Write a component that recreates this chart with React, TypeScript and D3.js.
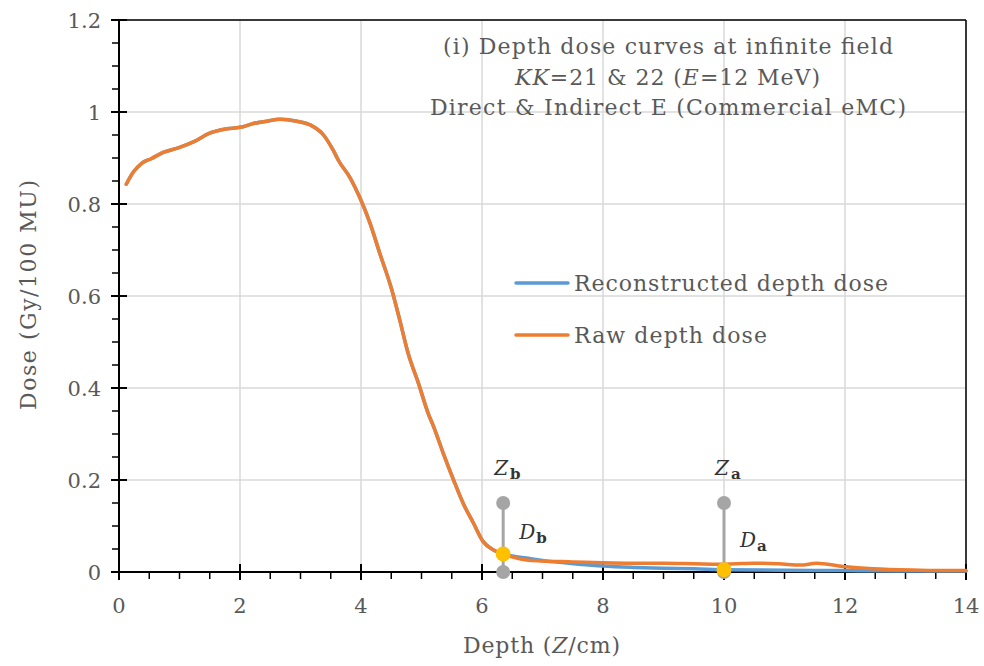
import React from "react";
import * as d3 from "d3";

const rawDepth = [0.12, 0.24, 0.37, 0.54, 0.73, 0.98, 1.23, 1.5, 1.72, 2.05, 2.22, 2.44, 2.66, 2.94, 3.16, 3.38, 3.54, 3.63, 3.82, 3.98, 4.15, 4.31, 4.51, 4.64, 4.78, 4.95, 5.11, 5.2, 5.36, 5.53, 5.69, 5.86, 6.02, 6.19, 6.35, 6.52, 6.74, 6.98, 7.5, 8.0, 8.5, 9.0, 9.5, 9.93, 10.2, 10.48, 10.9, 11.26, 11.53, 11.97, 12.46, 13.24, 14.0];
const rawDose = [0.843, 0.870, 0.888, 0.899, 0.912, 0.922, 0.935, 0.954, 0.962, 0.968, 0.975, 0.980, 0.984, 0.980, 0.972, 0.950, 0.917, 0.894, 0.857, 0.814, 0.758, 0.693, 0.613, 0.548, 0.475, 0.410, 0.345, 0.316, 0.258, 0.200, 0.149, 0.106, 0.066, 0.048, 0.039, 0.032, 0.026, 0.024, 0.022, 0.020, 0.019, 0.019, 0.018, 0.017, 0.018, 0.019, 0.018, 0.015, 0.019, 0.012, 0.007, 0.004, 0.003];

const reconDepth = [0.12, 0.24, 0.37, 0.54, 0.73, 0.98, 1.23, 1.5, 1.72, 2.05, 2.22, 2.44, 2.66, 2.94, 3.16, 3.38, 3.54, 3.63, 3.82, 3.98, 4.15, 4.31, 4.51, 4.64, 4.78, 4.95, 5.11, 5.2, 5.36, 5.53, 5.69, 5.86, 6.02, 6.19, 6.35, 6.5, 6.8, 7.2, 7.6, 8.0, 8.5, 9.0, 9.5, 10.0, 11.0, 12.0, 13.0, 14.0];
const reconDose = [0.843, 0.870, 0.888, 0.899, 0.912, 0.922, 0.935, 0.954, 0.962, 0.968, 0.975, 0.980, 0.984, 0.980, 0.972, 0.950, 0.917, 0.894, 0.857, 0.814, 0.758, 0.693, 0.613, 0.548, 0.475, 0.410, 0.345, 0.316, 0.258, 0.200, 0.149, 0.106, 0.066, 0.048, 0.039, 0.035, 0.029, 0.022, 0.017, 0.013, 0.010, 0.008, 0.007, 0.005, 0.004, 0.003, 0.002, 0.002];

const xTicks = [0, 2, 4, 6, 8, 10, 12, 14];
const yTicks = [0, 0.2, 0.4, 0.6, 0.8, 1, 1.2];
const yTickLabels = ["0", "0.2", "0.4", "0.6", "0.8", "1", "1.2"];

const markerDepths = [6.35, 10];
const markerTop = 0.15;
const markerDoses = [0.039, 0.005];
const markerZLabels = ["b", "a"];

const W = 984, H = 666;
const FONT = "'DejaVu Serif', serif";
const TXT = "#595959";

export default function App() {
  const x = d3.scaleLinear().domain([0, 14]).range([119, 966]);
  const y = d3.scaleLinear().domain([0, 1.2]).range([572, 20]);
  const line = d3
    .line<[number, number]>()
    .x((d) => x(d[0]))
    .y((d) => y(d[1]))
    .curve(d3.curveMonotoneX);
  const raw = rawDepth.map((d, i) => [d, rawDose[i]] as [number, number]);
  const recon = reconDepth.map((d, i) => [d, reconDose[i]] as [number, number]);
  const xMinor = d3.range(0, 14.01, 0.5).filter((v) => Math.abs(v % 2) > 1e-6);
  const yMinor = d3.range(0, 1.2001, 0.05).filter((v) => Math.abs(Math.round(v * 100) % 20) > 1e-6);

  return (
    <div style={{ position: "fixed", left: 0, top: 0 }}>
      <svg width={W} height={H} style={{ display: "block", background: "#fff" }}>
        {/* grid */}
        {xTicks.slice(1).map((t) => (
          <line key={"gx" + t} x1={x(t)} x2={x(t)} y1={y(0)} y2={y(1.2)} stroke="#d9d9d9" strokeWidth={1.5} />
        ))}
        {yTicks.slice(1).map((t) => (
          <line key={"gy" + t} x1={x(0)} x2={x(14)} y1={y(t)} y2={y(t)} stroke="#d9d9d9" strokeWidth={1.5} />
        ))}
        {/* frame top & right */}
        <line x1={x(0)} x2={x(14)} y1={y(1.2)} y2={y(1.2)} stroke="#000" strokeWidth={1.5} />
        <line x1={x(14)} x2={x(14)} y1={y(0)} y2={y(1.2)} stroke="#000" strokeWidth={1.5} />
        {/* axes */}
        <line x1={x(0)} x2={x(14)} y1={y(0)} y2={y(0)} stroke="#000" strokeWidth={2} />
        <line x1={x(0)} x2={x(0)} y1={y(0)} y2={y(1.2)} stroke="#000" strokeWidth={2} />
        {xTicks.map((t) => (
          <line key={"xt" + t} x1={x(t)} x2={x(t)} y1={y(0) - 8} y2={y(0) + 8} stroke="#000" strokeWidth={2} />
        ))}
        {xMinor.map((t) => (
          <line key={"xm" + t} x1={x(t)} x2={x(t)} y1={y(0)} y2={y(0) + 7} stroke="#000" strokeWidth={1.5} />
        ))}
        {yTicks.map((t) => (
          <line key={"yt" + t} x1={x(0) - 8} x2={x(0) + 8} y1={y(t)} y2={y(t)} stroke="#000" strokeWidth={2} />
        ))}
        {yMinor.map((t) => (
          <line key={"ym" + t} x1={x(0) - 7} x2={x(0)} y1={y(t)} y2={y(t)} stroke="#000" strokeWidth={1.5} />
        ))}
        {/* tick labels */}
        {xTicks.map((t) => (
          <text key={"xl" + t} x={x(t)} y={613} textAnchor="middle" fontFamily={FONT} fontSize={21} fill={TXT}>
            {t}
          </text>
        ))}
        {yTicks.map((t, i) => (
          <text key={"yl" + t} x={101} y={y(t) + 7.5} textAnchor="end" fontFamily={FONT} fontSize={21} fill={TXT}>
            {yTickLabels[i]}
          </text>
        ))}
        {/* axis titles */}
        <text x={463} y={653} textLength={157} lengthAdjust="spacing" fontFamily={FONT} fontSize={22} fill={TXT}>
          Depth (<tspan fontStyle="italic">Z</tspan>/cm)
        </text>
        <text transform={`translate(36,410) rotate(-90)`} textLength={230} lengthAdjust="spacing" fontFamily={FONT} fontSize={22} fill={TXT}>
          Dose (Gy/100 MU)
        </text>
        {/* chart title */}
        <g fontFamily={FONT} fontSize={22} fill={TXT}>
          <text x={443} y={54} textLength={450} lengthAdjust="spacing">(i) Depth dose curves at infinite field</text>
          <text x={515} y={85} textLength={305} lengthAdjust="spacing">
            <tspan fontStyle="italic">KK</tspan>=21 &amp; 22 (<tspan fontStyle="italic">E</tspan>=12 MeV)
          </text>
          <text x={430} y={115} textLength={476} lengthAdjust="spacing">Direct &amp; Indirect E (Commercial eMC)</text>
        </g>
        {/* curves */}
        <path d={line(recon) || ""} fill="none" stroke="#5B9BD5" strokeWidth={3.5} strokeLinecap="round" />
        <path d={line(raw) || ""} fill="none" stroke="#ED7D31" strokeWidth={3.5} strokeLinecap="round" />
        {/* markers */}
        {markerDepths.map((m, i) => (
          <g key={"mk" + i}>
            <line x1={x(m)} x2={x(m)} y1={y(0)} y2={y(markerTop)} stroke="#A5A5A5" strokeWidth={3} />
            <circle cx={x(m)} cy={y(markerTop)} r={7} fill="#A5A5A5" />
            <circle cx={x(m)} cy={y(0)} r={7} fill="#A5A5A5" />
            <circle cx={x(m)} cy={y(markerDoses[i])} r={7.5} fill="#FFC000" />
            <text x={x(m) - 9} y={475} fontFamily={FONT} fontSize={20} fill="#333">
              <tspan fontStyle="italic">Z</tspan>
              <tspan dx={2} dy={4} fontSize={15} fontWeight="bold">{markerZLabels[i]}</tspan>
            </text>
            <text x={x(m) + 16} y={i === 0 ? 539 : 547} fontFamily={FONT} fontSize={20} fill="#333">
              <tspan fontStyle="italic">D</tspan>
              <tspan dx={1} dy={4} fontSize={15} fontWeight="bold">{markerZLabels[i]}</tspan>
            </text>
          </g>
        ))}
        {/* legend */}
        <line x1={516} x2={568} y1={283} y2={283} stroke="#5B9BD5" strokeWidth={3.5} strokeLinecap="round" />
        <text x={574} y={291} textLength={314} lengthAdjust="spacing" fontFamily={FONT} fontSize={22} fill={TXT}>Reconstructed depth dose</text>
        <line x1={516} x2={568} y1={335} y2={335} stroke="#ED7D31" strokeWidth={3.5} strokeLinecap="round" />
        <text x={574} y={343} textLength={193} lengthAdjust="spacing" fontFamily={FONT} fontSize={22} fill={TXT}>Raw depth dose</text>
      </svg>
    </div>
  );
}
